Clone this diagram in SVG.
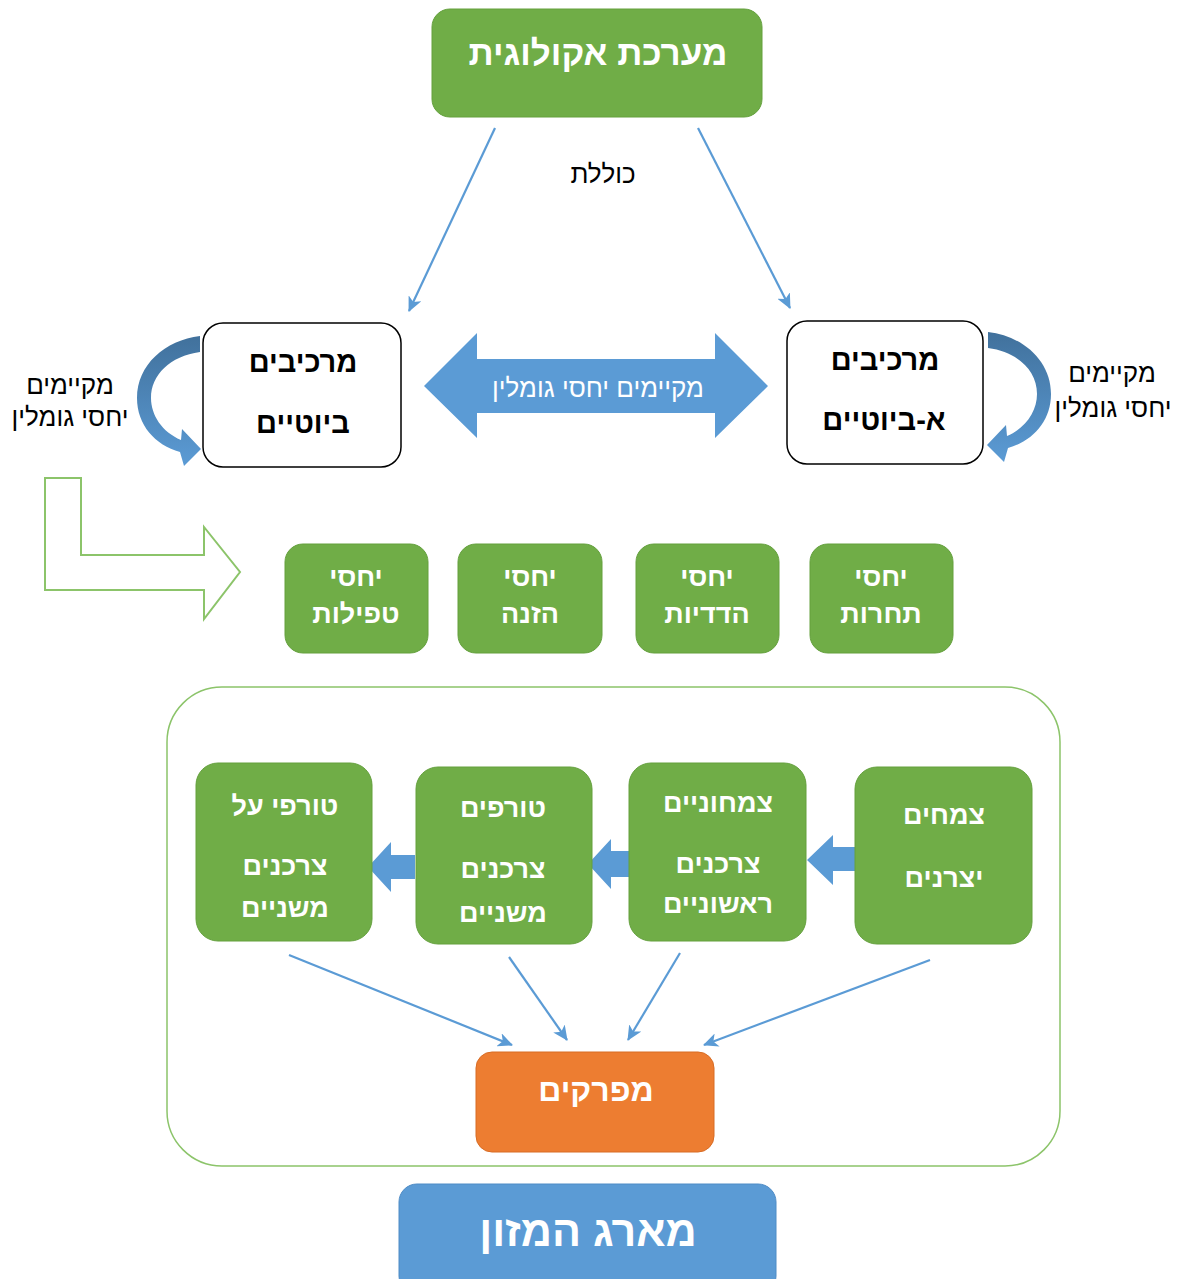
<svg xmlns="http://www.w3.org/2000/svg" width="1186" height="1279" viewBox="0 0 1186 1279">
<style>
.g{fill:#70AD47;stroke:#64A03D;stroke-width:1}
.w{fill:#FFFFFF;stroke:#000000;stroke-width:1.5}
.o{fill:#ED7D31;stroke:#D86C24;stroke-width:1}
.b{fill:#5B9BD5;stroke:#4F8CC6;stroke-width:1}
text{font-family:"Liberation Sans","DejaVu Sans",sans-serif;text-anchor:middle}
.tw{fill:#FFFFFF;font-weight:bold;font-size:27px}
.tk{fill:#000000;font-weight:bold;font-size:29px}
.lbl{fill:#000000;font-size:26px}
.ln{stroke:#5B9BD5;stroke-width:2.2;fill:none;marker-end:url(#ah)}
.blk{fill:#5B9BD5}
</style>
<defs>
<marker id="ah" markerUnits="userSpaceOnUse" markerWidth="16" markerHeight="14" refX="14" refY="7" orient="auto">
<path d="M0,0 L15,7 L0,14 L4,7 Z" fill="#5B9BD5"/>
</marker>
<linearGradient id="cg" x1="0" y1="0" x2="0" y2="1">
<stop offset="0" stop-color="#41719C"/>
<stop offset="1" stop-color="#5B9BD5"/>
</linearGradient>
</defs>

<g id="connectors">
<line class="ln" x1="495" y1="128" x2="409" y2="311"/>
<line class="ln" x1="698" y1="128" x2="790" y2="308"/>
<line class="ln" x1="289" y1="955" x2="512" y2="1045"/>
<line class="ln" x1="509" y1="957" x2="567" y2="1040"/>
<line class="ln" x1="680" y1="953" x2="628" y2="1040"/>
<line class="ln" x1="930" y1="960" x2="704" y2="1045"/>
<path id="double-arrow" class="blk" d="M424,386 L477,333 L477,359 L715,359 L715,333 L768,386 L715,438 L715,413 L477,413 L477,438 Z"/>
<path id="curve-left" fill="url(#cg)" d="M200,336 C165,340 137,365 137,398 C137,425 155,445 180,452 L184,466 L201,449 L182,429 L181,440 C162,432 151,415 151,398 C151,375 170,356 200,352 Z"/>
<path id="curve-right" fill="url(#cg)" transform="translate(1188,-4) scale(-1,1)" d="M200,336 C165,340 137,365 137,398 C137,425 155,445 180,452 L184,466 L201,449 L182,429 L181,440 C162,432 151,415 151,398 C151,375 170,356 200,352 Z"/>
<path id="l-arrow" fill="none" stroke="#8CC46A" stroke-width="2" d="M45,478 L81,478 L81,555 L204,555 L204,527 L240,572 L204,619 L204,590 L45,590 Z"/>
<path id="chain-arrow-1" class="blk" d="M807,860 L833,835 L833,847 L855,847 L855,871 L833,871 L833,885 Z"/>
<path id="chain-arrow-2" class="blk" d="M588,864 L611,839 L611,851 L633,851 L633,877 L611,877 L611,889 Z"/>
<path id="chain-arrow-3" class="blk" d="M368,867 L391,842 L391,855 L415,855 L415,879 L391,879 L391,892 Z"/>
</g>

<g id="label-includes"><text class="lbl" x="603" y="183">כוללת</text></g>
<g id="label-double"><text x="598" y="397" style="fill:#FFFFFF;font-size:26px">מקיימים יחסי גומלין</text></g>
<g id="label-left"><text class="lbl" x="70" y="394">מקיימים</text><text class="lbl" x="70" y="426">יחסי גומלין</text></g>
<g id="label-right"><text class="lbl" x="1112" y="382">מקיימים</text><text class="lbl" x="1113" y="417">יחסי גומלין</text></g>

<g id="ecosystem"><rect class="g" x="432" y="9" width="330" height="108" rx="18"/><text class="tw" x="598" y="65" style="font-size:35px">מערכת אקולוגית</text></g>

<g id="biotic"><rect class="w" x="203" y="323" width="198" height="144" rx="20"/><text class="tk" x="303" y="372">מרכיבים</text><text class="tk" x="303" y="433">ביוטיים</text></g>
<g id="abiotic"><rect class="w" x="787" y="321" width="196" height="143" rx="20"/><text class="tk" x="885" y="370">מרכיבים</text><text class="tk" x="884" y="430">א-ביוטיים</text></g>

<g id="parasitism"><rect class="g" x="285" y="544" width="143" height="109" rx="18"/><text class="tw" x="356" y="586">יחסי</text><text class="tw" x="356" y="623">טפילות</text></g>
<g id="feeding"><rect class="g" x="458" y="544" width="144" height="109" rx="18"/><text class="tw" x="530" y="586">יחסי</text><text class="tw" x="530" y="623">הזנה</text></g>
<g id="mutualism"><rect class="g" x="636" y="544" width="143" height="109" rx="18"/><text class="tw" x="707" y="586">יחסי</text><text class="tw" x="707" y="623">הדדיות</text></g>
<g id="competition"><rect class="g" x="810" y="544" width="143" height="109" rx="18"/><text class="tw" x="881" y="586">יחסי</text><text class="tw" x="881" y="623">תחרות</text></g>

<g id="food-chain-frame"><rect x="167" y="687" width="893" height="479" rx="55" fill="none" stroke="#8CC46A" stroke-width="1.5"/></g>

<g id="apex"><rect class="g" x="196" y="763" width="176" height="178" rx="22"/><text class="tw" x="285" y="815">טורפי על</text><text class="tw" x="285" y="875">צרכנים</text><text class="tw" x="285" y="917">משניים</text></g>
<g id="predators"><rect class="g" x="416" y="767" width="176" height="177" rx="22"/><text class="tw" x="503" y="817">טורפים</text><text class="tw" x="503" y="878">צרכנים</text><text class="tw" x="503" y="922">משניים</text></g>
<g id="herbivores"><rect class="g" x="629" y="763" width="177" height="178" rx="22"/><text class="tw" x="718" y="812">צמחוניים</text><text class="tw" x="718" y="873">צרכנים</text><text class="tw" x="718" y="913">ראשוניים</text></g>
<g id="producers"><rect class="g" x="855" y="767" width="177" height="177" rx="22"/><text class="tw" x="944" y="824">צמחים</text><text class="tw" x="944" y="887">יצרנים</text></g>

<g id="decomposers"><rect class="o" x="476" y="1052" width="238" height="100" rx="16"/><text class="tw" x="596" y="1101" style="font-size:32px">מפרקים</text></g>

<g id="food-web"><rect class="b" x="399" y="1184" width="377" height="110" rx="18"/><text class="tw" x="588" y="1246" style="font-size:43px">מארג המזון</text></g>
</svg>
